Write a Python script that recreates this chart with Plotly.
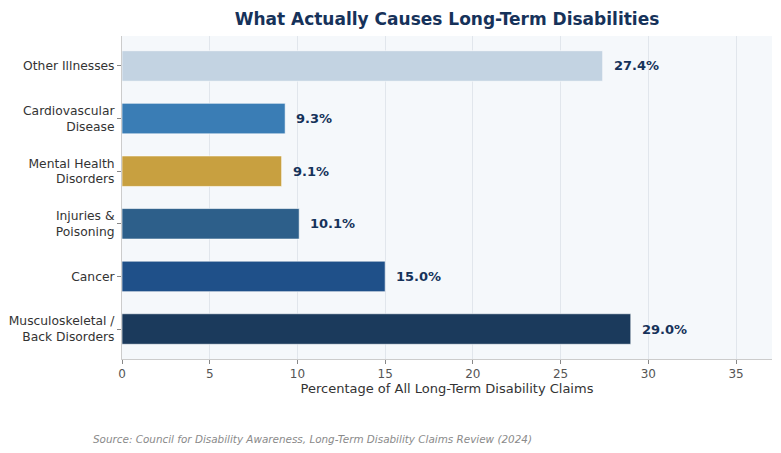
import plotly.graph_objects as go

causes = ['Musculoskeletal /<br>Back Disorders', 'Cancer', 'Injuries &<br>Poisoning',
          'Mental Health<br>Disorders', 'Cardiovascular<br>Disease', 'Other Illnesses']
shares = [29.0, 15.0, 10.1, 9.1, 9.3, 27.4]
bar_colors = ['#1b3a5c', '#1f5089', '#2d5f8a', '#c8a040', '#3a7db5', '#c3d3e2']

navy = '#16325a'

fig = go.Figure(go.Bar(
    y=causes,
    x=shares,
    orientation='h',
    width=0.58,
    marker=dict(color=bar_colors, line=dict(color='rgba(255,255,255,0.6)', width=1)),
    hoverinfo='skip',
))

for c, v in zip(causes, shares):
    fig.add_annotation(x=v, y=c, text=f'<b>{v:.1f}%</b>', showarrow=False,
                       xanchor='left', xshift=9,
                       font=dict(family='DejaVu Sans', size=13, color=navy))

fig.add_annotation(
    text='<i>Source: Council for Disability Awareness, Long-Term Disability Claims Review (2024)</i>',
    xref='paper', yref='paper', x=-0.048, y=-0.248, xanchor='left', yanchor='middle',
    showarrow=False, font=dict(family='DejaVu Sans', size=10.4, color='#8a8a8a'))

fig.update_layout(
    width=781, height=453,
    margin=dict(l=114, r=17, t=28, b=102),
    paper_bgcolor='white',
    plot_bgcolor='#f5f8fb',
    font=dict(family='DejaVu Sans', color='#333333'),
    title=dict(text='<b>What Actually Causes Long-Term Disabilities</b>',
               x=0.5, xref='paper', xanchor='center', y=0.976, yanchor='middle',
               font=dict(family='DejaVu Sans', size=17, color=navy)),
    showlegend=False,
)
fig.update_xaxes(range=[0, 37.05], dtick=5, showgrid=True, gridcolor='#e1e6ec',
                 zeroline=False, showline=True, linecolor='#cccccc', linewidth=1,
                 ticks='outside', ticklen=4, tickcolor='#888888', automargin=False,
                 tickfont=dict(size=12, color='#555555'),
                 title=dict(text='Percentage of All Long-Term Disability Claims',
                            font=dict(size=13, color='#333333'), standoff=3))
fig.update_yaxes(range=[-0.57, 5.57], showgrid=False, showline=True,
                 linecolor='#cccccc', linewidth=1,
                 ticks='outside', ticklen=4, tickcolor='#888888', automargin=False,
                 tickfont=dict(size=12.3, color='#333333'))

fig.write_html("out.html")
